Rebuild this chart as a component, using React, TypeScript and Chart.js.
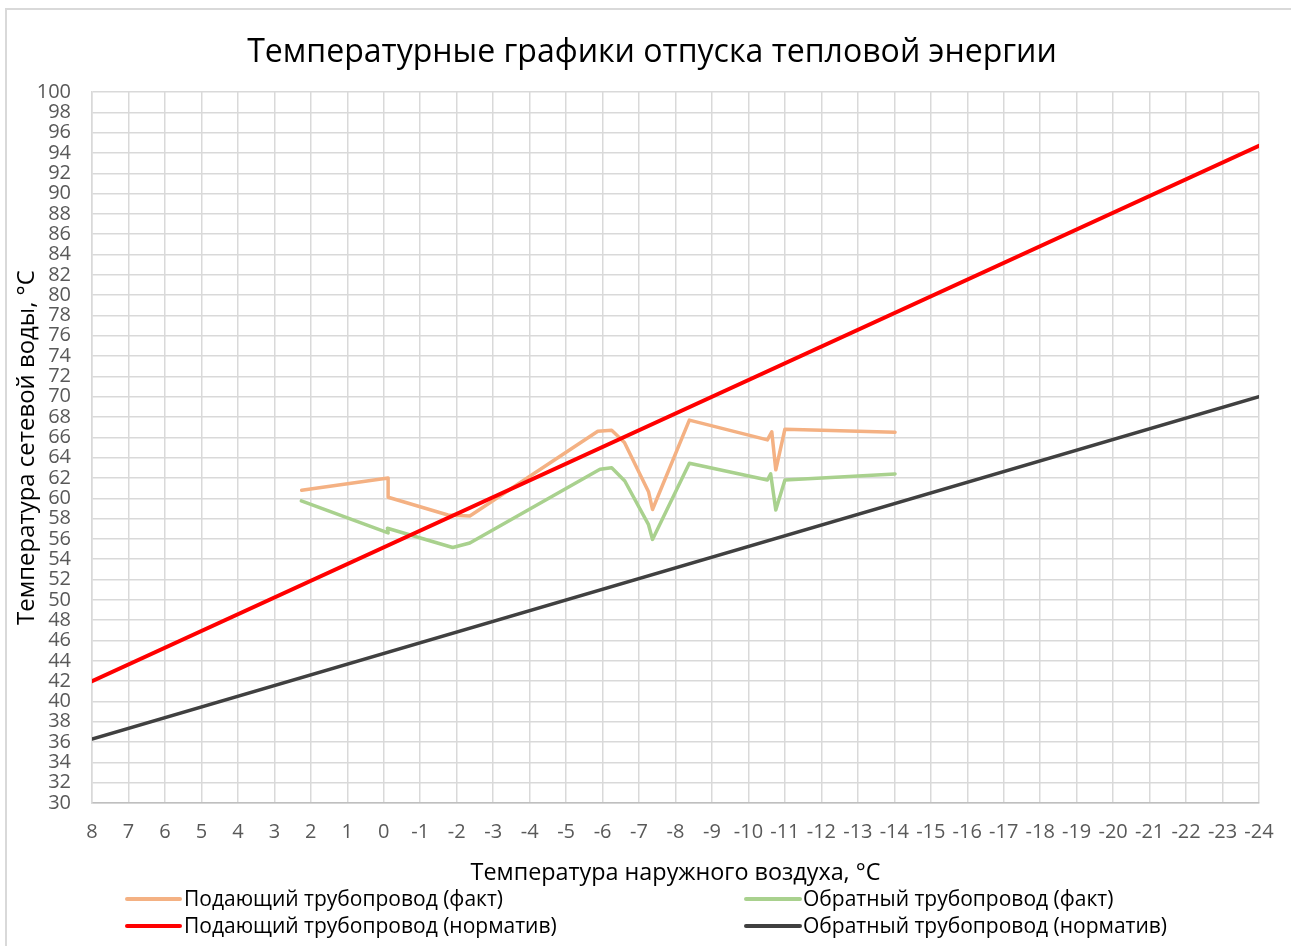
import React, { useEffect, useRef } from "react";
import { Chart, registerables } from "chart.js";

Chart.register(...registerables);

const FONT = "'Open Sans', 'Noto Sans', 'DejaVu Sans', sans-serif";

const TITLE = "Температурные графики отпуска тепловой энергии";
const X_TITLE = "Температура наружного воздуха, °С";
const Y_TITLE = "Температура сетевой воды, °С";

const seriesNames = [
  "Подающий трубопровод (факт)",
  "Обратный трубопровод (факт)",
  "Подающий трубопровод (норматив)",
  "Обратный трубопровод (норматив)",
];

const seriesColors = ["#F4B183", "#A9D18E", "#FF0000", "#404040"];

const supplyFactX = [2.25, -0.12, -0.12, -1.76, -2.36, -5.87, -6.25, -6.6, -7.26, -7.37, -8.38, -10.52, -10.64, -10.75, -11.0, -14.02];
const supplyFactY = [60.8, 62.0, 60.1, 58.35, 58.25, 66.6, 66.7, 65.5, 60.65, 58.9, 67.7, 65.75, 66.55, 62.8, 66.8, 66.5];

const returnFactX = [2.26, -0.12, -0.1, -1.89, -2.36, -5.93, -6.25, -6.61, -7.26, -7.37, -8.38, -10.52, -10.61, -10.75, -11.0, -14.02];
const returnFactY = [59.75, 56.6, 57.05, 55.15, 55.6, 62.85, 63.0, 61.7, 57.4, 55.95, 63.45, 61.8, 62.4, 58.85, 61.8, 62.4];

const supplyNormX = [8, -24];
const supplyNormY = [42.0, 94.7];

const returnNormX = [8, -24];
const returnNormY = [36.3, 70.0];

const X_MIN = -24;
const X_MAX = 8;
const Y_MIN = 30;
const Y_MAX = 100;

function toPoints(xs: number[], ys: number[]) {
  return xs.map((x, i) => ({ x, y: ys[i] }));
}

function fitSize(text: string, target: number) {
  const ctx = document.createElement("canvas").getContext("2d")!;
  ctx.font = `100px ${FONT}`;
  const w = ctx.measureText(text).width;
  return (100 * target) / w;
}

export default function App() {
  const ref = useRef<HTMLCanvasElement | null>(null);

  useEffect(() => {
    document.body.style.margin = "0";
    const canvas = ref.current!;
    const titleSize = fitSize(TITLE, 810);
    const xTitleSize = fitSize(X_TITLE, 410);
    const yTitleSize = fitSize(Y_TITLE, 355);
    const legendSize = fitSize(seriesNames[0], 319);

    const X_AXIS_H = 70 + 0.6 * xTitleSize;
    const CA_BOTTOM = 793;
    const CANVAS_H = 936;

    const decor = {
      id: "decor",
      afterDraw(chart: any) {
        const ctx = chart.ctx;
        ctx.save();
        ctx.fillStyle = "#000000";
        ctx.font = `${titleSize}px ${FONT}`;
        ctx.textAlign = "center";
        ctx.textBaseline = "middle";
        ctx.fillText(TITLE, 645, 43);

        const rows = [889, 916];
        const cols = [
          { x0: 120, x1: 173, tx: 177 },
          { x0: 739, x1: 793, tx: 796 },
        ];
        ctx.font = `${legendSize}px ${FONT}`;
        ctx.textAlign = "left";
        seriesNames.forEach((name, i) => {
          const r = rows[Math.floor(i / 2)];
          const c = cols[i % 2];
          ctx.strokeStyle = seriesColors[i];
          ctx.lineWidth = 4;
          ctx.lineCap = "round";
          ctx.beginPath();
          ctx.moveTo(c.x0, r);
          ctx.lineTo(c.x1, r);
          ctx.stroke();
          ctx.fillStyle = "#000000";
          ctx.fillText(name, c.tx, r + 1);
        });
        ctx.restore();
      },
    };

    const chart = new Chart(canvas, {
      type: "scatter",
      data: {
        datasets: [
          {
            label: seriesNames[0],
            data: toPoints(supplyFactX, supplyFactY),
            borderColor: seriesColors[0],
            borderWidth: 3.5,
            order: 2,
          },
          {
            label: seriesNames[1],
            data: toPoints(returnFactX, returnFactY),
            borderColor: seriesColors[1],
            borderWidth: 3.5,
            order: 3,
          },
          {
            label: seriesNames[2],
            data: toPoints(supplyNormX, supplyNormY),
            borderColor: seriesColors[2],
            borderWidth: 4,
            order: 0,
          },
          {
            label: seriesNames[3],
            data: toPoints(returnNormX, returnNormY),
            borderColor: seriesColors[3],
            borderWidth: 3.5,
            order: 1,
          },
        ].map((d) => ({
          ...d,
          showLine: true,
          pointRadius: 0,
          pointHoverRadius: 0,
          fill: false,
          tension: 0,
          borderJoinStyle: "round" as const,
          borderCapStyle: "round" as const,
        })),
      },
      options: {
        responsive: false,
        animation: false,
        events: [],
        layout: {
          padding: { top: 82, right: 32, left: 0, bottom: CANVAS_H - CA_BOTTOM - X_AXIS_H },
        },
        plugins: {
          legend: { display: false },
          title: { display: false },
          tooltip: { enabled: false },
        },
        scales: {
          x: {
            type: "linear",
            reverse: true,
            min: X_MIN,
            max: X_MAX,
            ticks: {
              stepSize: 1,
              autoSkip: false,
              maxRotation: 0,
              color: "#595959",
              font: { size: 20, family: FONT },
              padding: 17,
              callback: (v: any) => String(v),
            },
            grid: { color: "#D9D9D9", lineWidth: 1.5, drawTicks: false },
            border: { color: "#BFBFBF", width: 1.5 },
            title: {
              display: true,
              text: X_TITLE,
              color: "#000000",
              font: { size: xTitleSize, family: FONT },
              padding: { top: 0, bottom: 0 },
            },
            afterFit: (s: any) => {
              s.height = X_AXIS_H;
            },
          },
          y: {
            type: "linear",
            min: Y_MIN,
            max: Y_MAX,
            ticks: {
              stepSize: 2,
              autoSkip: false,
              color: "#595959",
              font: { size: 20, family: FONT },
              padding: 21,
            },
            grid: { color: "#D9D9D9", lineWidth: 1.5, drawTicks: false },
            border: { color: "#D9D9D9", width: 1.5 },
            title: {
              display: true,
              text: Y_TITLE,
              color: "#000000",
              font: { size: yTitleSize, family: FONT },
              padding: { top: 20 - 0.6 * yTitleSize, bottom: 0 },
            },
            afterFit: (s: any) => {
              s.width = 85;
            },
          },
        },
      },
      plugins: [decor],
    } as any);

    return () => chart.destroy();
  }, []);

  return (
    <div
      style={{
        position: "absolute",
        left: 5,
        top: 8,
        width: 1286,
        height: 938,
        borderLeft: "2px solid #D9D9D9",
        borderTop: "2px solid #D9D9D9",
        boxSizing: "border-box",
        background: "#FFFFFF",
      }}
    >
      <canvas ref={ref} width={1284} height={936} style={{ display: "block", width: 1284, height: 936 }} />
    </div>
  );
}
